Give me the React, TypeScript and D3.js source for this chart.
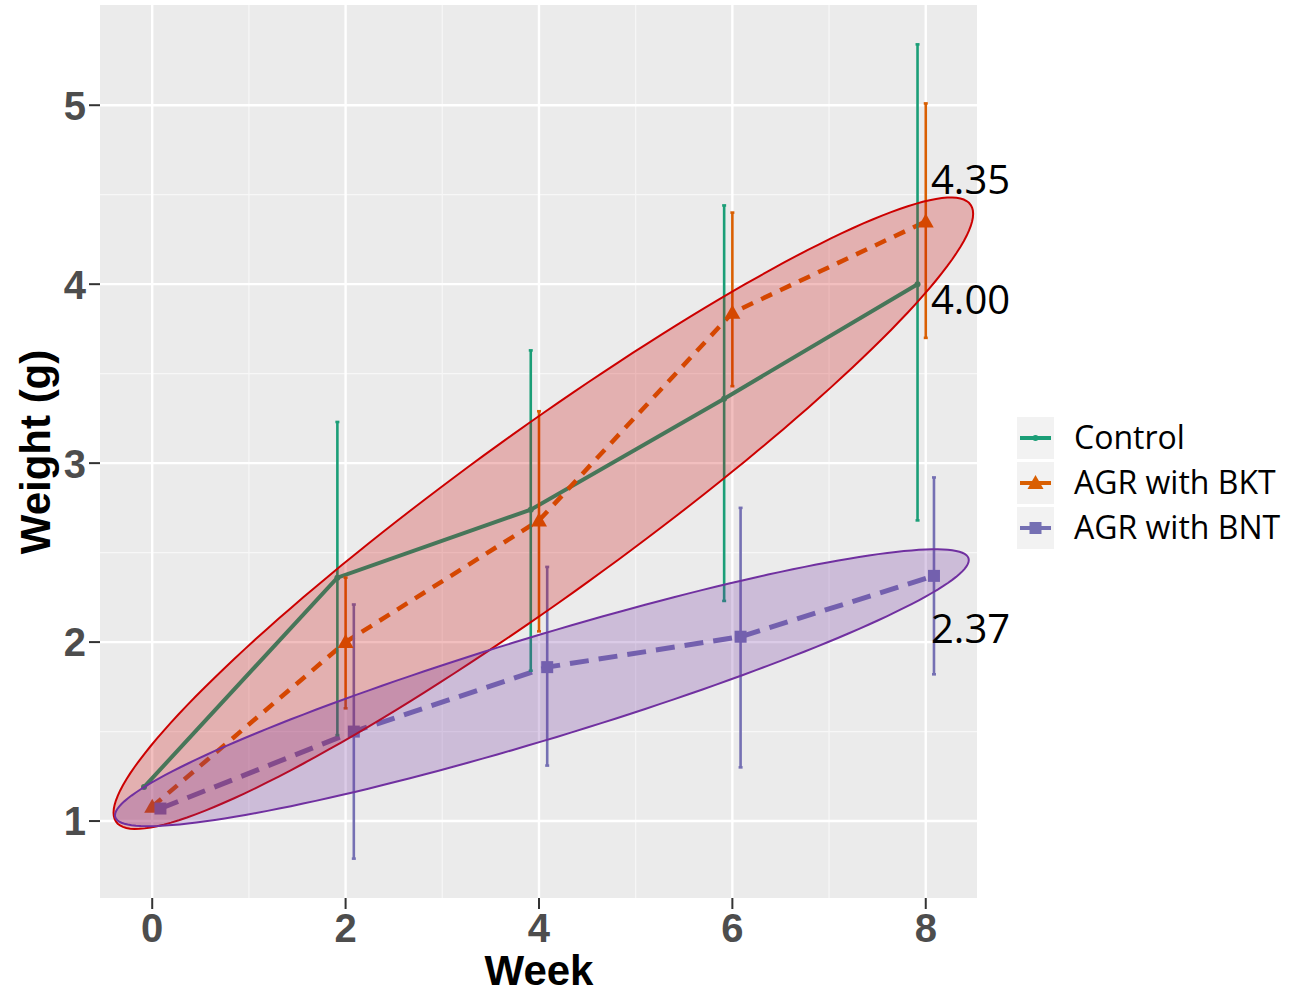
import React from 'react';
import { scaleLinear, line, range } from 'd3';

const width = 1294;
const height = 995;

const weeks = [0, 2, 4, 6, 8];
const seriesNames = ['Control', 'AGR with BKT', 'AGR with BNT'];
const seriesColors = ['#1B9E77', '#D95F02', '#7570B3'];
const dodge = [-0.085, 0, 0.085];

const controlMean = [1.19, 2.36, 2.74, 3.36, 4.0];
const controlLow = [1.19, 1.48, 1.84, 2.23, 2.68];
const controlHigh = [1.19, 3.23, 3.63, 4.44, 5.34];

const bktMean = [1.08, 2.0, 2.68, 3.84, 4.35];
const bktLow = [1.08, 1.63, 2.06, 3.43, 3.7];
const bktHigh = [1.08, 2.36, 3.29, 4.4, 5.01];

const bntMean = [1.07, 1.5, 1.86, 2.03, 2.37];
const bntLow = [1.07, 0.79, 1.31, 1.3, 1.82];
const bntHigh = [1.07, 2.21, 2.42, 2.75, 2.92];

const endLabels = ['4.00', '4.35', '2.37'];
const yTicks = [1, 2, 3, 4, 5];
const xTicks = [0, 2, 4, 6, 8];

// ellipses: centre, half major diameter, vertical half chord (data units)
const redEllipse = { cx: 4.045, cy: 2.72, ux: 4.445, uy: 1.673, vy: 0.56 };
const purpleEllipse = { cx: 4.03, cy: 1.745, ux: 4.415, uy: 0.713, vy: 0.3 };

const x = scaleLinear().domain([-0.54, 8.53]).range([100, 977]);
const y = scaleLinear().domain([0.57, 5.56]).range([898, 5]);

const series = [
  { mean: controlMean, low: controlLow, high: controlHigh },
  { mean: bktMean, low: bktLow, high: bktHigh },
  { mean: bntMean, low: bntLow, high: bntHigh },
];

const dashes = [undefined, '12 9', '19 10'];
const widths = [4, 4.5, 5];

const ellipsePath = (e: typeof redEllipse) => {
  const pts = range(0, 361, 2).map(d => {
    const t = (d * Math.PI) / 180;
    return [x(e.cx + Math.cos(t) * e.ux), y(e.cy + Math.cos(t) * e.uy + Math.sin(t) * e.vy)] as [number, number];
  });
  return line()(pts) + 'Z';
};

const Marker = ({ i, cx, cy }: { i: number; cx: number; cy: number }) => {
  const c = seriesColors[i];
  if (i === 0) return <circle cx={cx} cy={cy} r={3} fill={c} />;
  if (i === 1) return <path d={`M${cx},${cy - 8}L${cx + 8},${cy + 6}L${cx - 8},${cy + 6}Z`} fill={c} />;
  return <rect x={cx - 6} y={cy - 6} width={12} height={12} fill={c} />;
};

const App = () => {
  const minorY = [1.5, 2.5, 3.5, 4.5];
  const minorX = [1, 3, 5, 7];
  const tickFont = 'Liberation Sans, Arial, sans-serif';
  const labelFont = 'Open Sans, Noto Sans, sans-serif';

  return (
    <svg width={width} height={height} style={{ position: 'absolute', left: 0, top: 0 }}>
      <rect x={0} y={0} width={width} height={height} fill="#fff" />
      <rect x={100} y={5} width={877} height={893} fill="#EBEBEB" />
      {minorY.map(d => (
        <line key={'my' + d} x1={100} x2={977} y1={y(d)} y2={y(d)} stroke="#F7F7F7" strokeWidth={1.2} />
      ))}
      {minorX.map(d => (
        <line key={'mx' + d} x1={x(d)} x2={x(d)} y1={5} y2={898} stroke="#F7F7F7" strokeWidth={1.2} />
      ))}
      {yTicks.map(d => (
        <line key={'gy' + d} x1={100} x2={977} y1={y(d)} y2={y(d)} stroke="#fff" strokeWidth={2.4} />
      ))}
      {xTicks.map(d => (
        <line key={'gx' + d} x1={x(d)} x2={x(d)} y1={5} y2={898} stroke="#fff" strokeWidth={2.4} />
      ))}

      {series.map((s, i) => (
        <path
          key={'l' + i}
          d={line()(weeks.map((w, j) => [x(w + dodge[i]), y(s.mean[j])] as [number, number])) || ''}
          fill="none"
          stroke={seriesColors[i]}
          strokeWidth={widths[i]}
          strokeDasharray={dashes[i]}
        />
      ))}
      {series.map((s, i) =>
        weeks.map((w, j) => {
          const cx = x(w + dodge[i]);
          return (
            <g key={'e' + i + j}>
              <line x1={cx} x2={cx} y1={y(s.low[j])} y2={y(s.high[j])} stroke={seriesColors[i]} strokeWidth={2.6} />
              <line x1={cx - 2} x2={cx + 2} y1={y(s.low[j])} y2={y(s.low[j])} stroke={seriesColors[i]} strokeWidth={2.6} />
              <line x1={cx - 2} x2={cx + 2} y1={y(s.high[j])} y2={y(s.high[j])} stroke={seriesColors[i]} strokeWidth={2.6} />
            </g>
          );
        })
      )}
      {series.map((s, i) =>
        weeks.map((w, j) => <Marker key={'m' + i + j} i={i} cx={x(w + dodge[i])} cy={y(s.mean[j])} />)
      )}

      <path d={ellipsePath(redEllipse)} fill="rgba(204,0,0,0.25)" stroke="#CC0000" strokeWidth={2} />
      <path d={ellipsePath(purpleEllipse)} fill="rgba(112,48,160,0.25)" stroke="#7030A0" strokeWidth={2} />

      <text x={931} y={300} dy="0.35em" fontFamily={labelFont} fontSize={40} fill="#000">{endLabels[0]}</text>
      <text x={931} y={180} dy="0.35em" fontFamily={labelFont} fontSize={40} fill="#000">{endLabels[1]}</text>
      <text x={931} y={629} dy="0.35em" fontFamily={labelFont} fontSize={40} fill="#000">{endLabels[2]}</text>

      {yTicks.map(d => (
        <g key={'yt' + d}>
          <line x1={89} x2={100} y1={y(d)} y2={y(d)} stroke="#333" strokeWidth={2} />
          <text x={86} y={y(d)} dy="0.36em" textAnchor="end" fontFamily={tickFont} fontWeight="bold" fontSize={40} fill="#4D4D4D">{d}</text>
        </g>
      ))}
      {xTicks.map(d => (
        <g key={'xt' + d}>
          <line x1={x(d)} x2={x(d)} y1={898} y2={909} stroke="#333" strokeWidth={2} />
          <text x={x(d)} y={942} textAnchor="middle" fontFamily={tickFont} fontWeight="bold" fontSize={40} fill="#4D4D4D">{d}</text>
        </g>
      ))}
      <text x={539} y={985} textAnchor="middle" fontFamily={tickFont} fontWeight="bold" fontSize={42} fill="#000">Week</text>
      <text transform="translate(50,452) rotate(-90)" textAnchor="middle" fontFamily={tickFont} fontWeight="bold" fontSize={42} fill="#000">Weight (g)</text>

      {seriesNames.map((name, i) => {
        const cy = 438 + i * 45;
        return (
          <g key={'lg' + i}>
            <rect x={1017} y={cy - 21} width={37} height={42} fill="#F2F2F2" />
            <line x1={1020} x2={1051} y1={cy} y2={cy} stroke={seriesColors[i]} strokeWidth={4} />
            <Marker i={i} cx={1035.5} cy={cy} />
            <text x={1074} y={cy} dy="0.35em" fontFamily={labelFont} fontSize={32} fill="#000">{name}</text>
          </g>
        );
      })}
    </svg>
  );
};

export default App;
